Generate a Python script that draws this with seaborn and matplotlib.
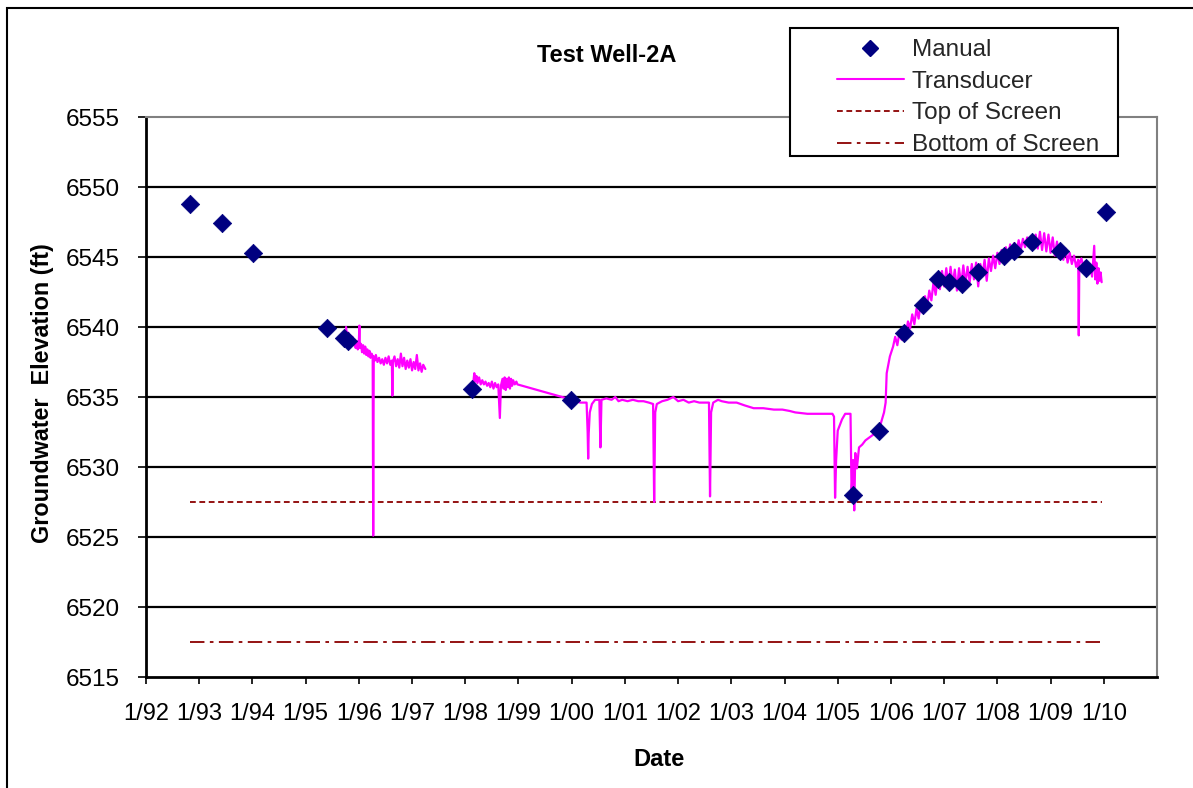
import numpy as np
import pandas as pd
import matplotlib
matplotlib.use("Agg")
import matplotlib.pyplot as plt
import seaborn as sns
from matplotlib.lines import Line2D
from matplotlib.patches import Rectangle

# ---------------- data ----------------
manual_dates = [1992.83, 1993.43, 1994.01, 1995.40, 1995.72, 1995.80, 1998.13, 1999.99,
                2005.28, 2005.77, 2006.24, 2006.61, 2006.88, 2007.10, 2007.33, 2007.63,
                2008.12, 2008.32, 2008.66, 2009.17, 2009.66, 2010.04]
manual_elev = [6548.8, 6547.4, 6545.3, 6539.9, 6539.2, 6539.0, 6535.6, 6534.8,
               6528.0, 6532.6, 6539.6, 6541.6, 6543.4, 6543.2, 6543.1, 6543.9,
               6545.1, 6545.4, 6546.1, 6545.4, 6544.2, 6548.2]

# transducer record, segment 1 (1995.8 - 1997.3)
trans1_dates = [1995.76, 1995.78, 1995.80, 1995.82, 1995.84, 1995.86, 1995.88, 1995.90, 1995.92, 1995.94,
                1995.96, 1995.98, 1996.00, 1996.01, 1996.02, 1996.04, 1996.06, 1996.08, 1996.10, 1996.12,
                1996.14, 1996.16, 1996.18, 1996.20, 1996.22, 1996.24, 1996.26, 1996.27, 1996.28, 1996.30,
                1996.32, 1996.35, 1996.38, 1996.41, 1996.44, 1996.47, 1996.50, 1996.53, 1996.56, 1996.59,
                1996.62, 1996.63, 1996.64, 1996.67, 1996.70, 1996.73, 1996.76, 1996.79, 1996.82, 1996.85,
                1996.88, 1996.91, 1996.94, 1996.97, 1997.00, 1997.03, 1997.06, 1997.09, 1997.12, 1997.15,
                1997.18, 1997.21, 1997.25]
trans1_elev = [6540.0, 6539.2, 6539.6, 6538.9, 6539.4, 6538.8, 6539.3, 6538.7, 6539.1, 6538.5,
               6539.0, 6538.4, 6538.9, 6540.1, 6538.5, 6538.8, 6538.2, 6538.7, 6538.1, 6538.6,
               6538.0, 6538.4, 6537.9, 6538.3, 6537.8, 6538.1, 6537.9, 6525.1, 6537.9, 6537.6,
               6538.0, 6537.5, 6537.8, 6537.4, 6537.7, 6537.3, 6537.8, 6537.4, 6537.9, 6537.3,
               6537.6, 6535.1, 6537.5, 6537.9, 6537.2, 6537.7, 6537.1, 6538.1, 6537.2, 6537.8,
               6537.0, 6537.6, 6537.1, 6537.7, 6536.9, 6537.5, 6537.0, 6538.0, 6536.9, 6537.4,
               6536.8, 6537.3, 6537.0]

# transducer record, segment 2 (1998.15 - 2009.96)
trans2_dates = [1998.15, 1998.17, 1998.19, 1998.21, 1998.23, 1998.26, 1998.29, 1998.32, 1998.35, 1998.38,
                1998.41, 1998.44, 1998.47, 1998.50, 1998.53, 1998.56, 1998.59, 1998.62, 1998.65, 1998.67,
                1998.70, 1998.72, 1998.74, 1998.76, 1998.78, 1998.80, 1998.82, 1998.84, 1998.86, 1998.88,
                1998.90, 1998.93, 1998.96, 1998.98,
                2000.00, 2000.10, 2000.16, 2000.28, 2000.30, 2000.31, 2000.32, 2000.34, 2000.38, 2000.44,
                2000.52, 2000.54, 2000.56, 2000.65, 2000.75, 2000.82, 2000.88, 2000.95, 2001.05, 2001.15,
                2001.25, 2001.35, 2001.45, 2001.53, 2001.55, 2001.57, 2001.60, 2001.70, 2001.80, 2001.91,
                2002.00, 2002.10, 2002.20, 2002.30, 2002.40, 2002.58, 2002.60, 2002.62, 2002.66, 2002.75,
                2002.82, 2002.95, 2003.10, 2003.25, 2003.42, 2003.60, 2003.80, 2003.96, 2004.10, 2004.20,
                2004.43, 2004.70, 2004.90, 2004.93, 2004.95, 2004.97, 2005.00, 2005.08, 2005.14, 2005.24,
                2005.26, 2005.29, 2005.31, 2005.33, 2005.36, 2005.40, 2005.46, 2005.52, 2005.77, 2005.87,
                2005.90, 2005.92, 2005.98,
                2006.04, 2006.08, 2006.12, 2006.16, 2006.20, 2006.24, 2006.28, 2006.32, 2006.36, 2006.40,
                2006.44, 2006.48, 2006.52, 2006.56, 2006.60, 2006.64, 2006.68, 2006.72, 2006.76, 2006.80,
                2006.84, 2006.88, 2006.92, 2006.96, 2007.00, 2007.04, 2007.08, 2007.12, 2007.16, 2007.20,
                2007.24, 2007.28, 2007.32, 2007.36, 2007.40, 2007.44, 2007.48, 2007.52, 2007.56, 2007.60,
                2007.64, 2007.68, 2007.72, 2007.76, 2007.80, 2007.84, 2007.88, 2007.92, 2007.96, 2008.00,
                2008.04, 2008.08, 2008.12, 2008.16, 2008.20, 2008.24, 2008.28, 2008.32, 2008.36, 2008.40,
                2008.44, 2008.48, 2008.52, 2008.56, 2008.60, 2008.64, 2008.68, 2008.72, 2008.76, 2008.80,
                2008.84, 2008.88, 2008.92, 2008.96, 2009.00, 2009.04, 2009.08, 2009.12, 2009.16, 2009.20,
                2009.24, 2009.28, 2009.32, 2009.36, 2009.40, 2009.44, 2009.48, 2009.52, 2009.53, 2009.54,
                2009.58, 2009.62, 2009.66, 2009.70, 2009.74, 2009.78, 2009.82, 2009.84, 2009.86, 2009.88,
                2009.90, 2009.92, 2009.94, 2009.96]
trans2_elev = [6536.0, 6536.7, 6536.1, 6536.5, 6536.0, 6536.4, 6535.9, 6536.2, 6535.9, 6536.1,
               6535.8, 6536.0, 6535.7, 6536.1, 6535.6, 6536.0, 6535.7, 6535.9, 6533.5, 6535.8,
               6536.3, 6535.6, 6536.4, 6535.5, 6536.3, 6535.7, 6536.4, 6535.6, 6536.3, 6535.8,
               6536.2, 6535.9, 6536.1, 6535.9,
               6534.8, 6534.7, 6534.6, 6534.6, 6532.5, 6530.6, 6532.4, 6533.9, 6534.5, 6534.8,
               6534.8, 6531.4, 6534.8, 6534.9, 6534.8, 6535.0, 6534.7, 6534.8, 6534.7, 6534.8,
               6534.7, 6534.7, 6534.6, 6534.5, 6527.5, 6533.9, 6534.5, 6534.7, 6534.8, 6535.0,
               6534.7, 6534.8, 6534.6, 6534.7, 6534.6, 6534.6, 6527.9, 6533.9, 6534.6, 6534.8,
               6534.7, 6534.6, 6534.6, 6534.4, 6534.2, 6534.2, 6534.1, 6534.1, 6534.0, 6533.9,
               6533.8, 6533.8, 6533.8, 6533.6, 6527.8, 6530.5, 6532.6, 6533.4, 6533.8, 6533.8,
               6528.1, 6530.5, 6526.9, 6531.0, 6529.9, 6531.4, 6531.6, 6531.9, 6532.6, 6533.9,
               6534.6, 6536.7, 6537.9,
               6538.6, 6539.3, 6538.7, 6539.6, 6539.1, 6540.0, 6539.5, 6540.4, 6539.9, 6540.9,
               6540.2, 6541.3, 6540.6, 6541.7, 6541.0, 6542.2, 6541.4, 6542.6, 6541.9, 6543.2,
               6542.3, 6543.6, 6542.7, 6544.0, 6542.9, 6544.2, 6542.8, 6544.3, 6543.0, 6544.1,
               6542.6, 6544.2, 6543.0, 6544.4, 6543.1, 6544.3, 6543.2, 6544.5, 6543.4, 6544.6,
               6542.9, 6544.5, 6543.7, 6544.8, 6543.3, 6544.9, 6544.0, 6545.1, 6544.2, 6545.3,
               6544.5, 6545.5, 6544.7, 6545.7, 6544.9, 6545.9, 6545.1, 6546.0, 6545.3, 6546.2,
               6545.5, 6546.3, 6545.7, 6546.4, 6545.8, 6546.5, 6545.7, 6546.6, 6545.6, 6546.8,
               6545.5, 6546.7, 6545.4, 6546.6, 6545.3, 6546.4, 6545.1, 6546.1, 6544.9, 6545.8,
               6544.8, 6545.6, 6544.6, 6545.3, 6544.5, 6545.1, 6544.3, 6544.8, 6539.4, 6544.5,
               6544.9, 6544.2, 6544.7, 6543.9, 6544.5, 6543.6, 6545.8, 6543.4, 6544.6, 6543.1,
               6544.2, 6543.3, 6543.9, 6543.2]

screen_dates = [1992.83, 2009.96]
top_of_screen = [6527.5, 6527.5]
bottom_of_screen = [6517.5, 6517.5]

year_ticks = [1992, 1993, 1994, 1995, 1996, 1997, 1998, 1999, 2000, 2001,
              2002, 2003, 2004, 2005, 2006, 2007, 2008, 2009, 2010]
year_labels = ["1/92", "1/93", "1/94", "1/95", "1/96", "1/97", "1/98", "1/99", "1/00", "1/01",
               "1/02", "1/03", "1/04", "1/05", "1/06", "1/07", "1/08", "1/09", "1/10"]
elev_ticks = [6515, 6520, 6525, 6530, 6535, 6540, 6545, 6550, 6555]

# ---------------- tables ----------------
manual_df = pd.DataFrame({"date": manual_dates, "elev": manual_elev})
trans_df = pd.concat([
    pd.DataFrame({"date": trans1_dates, "elev": trans1_elev, "seg": 1}),
    pd.DataFrame({"date": trans2_dates, "elev": trans2_elev, "seg": 2}),
], ignore_index=True)
screen_df = pd.DataFrame({"date": screen_dates, "top": top_of_screen, "bottom": bottom_of_screen})

# ---------------- style ----------------
sns.set_theme(style="white")
plt.rcParams["font.family"] = ["Liberation Sans", "DejaVu Sans"]

W, H = 1193, 788
fig = plt.figure(figsize=(W / 100, H / 100), dpi=100)
fig.patch.set_facecolor("white")

x0, x1, ytop, ybot = 146, 1157, 117, 677
ax = fig.add_axes([x0 / W, 1 - ybot / H, (x1 - x0) / W, (ybot - ytop) / H])
ax.set_facecolor("white")

# grid lines
for v in elev_ticks[1:-1]:
    ax.axhline(v, color="black", lw=1.6, zorder=1)

MAG = "#FF00FF"
NAVY = "#000080"
DRED = "#8B0000"

sns.lineplot(data=screen_df, x="date", y="top", ax=ax, color=DRED, lw=1.3,
             linestyle=(0, (3.2, 2.0)), zorder=2, legend=False)
sns.lineplot(data=screen_df, x="date", y="bottom", ax=ax, color=DRED, lw=1.3,
             linestyle=(0, (8, 3, 2, 3)), zorder=2, legend=False)
sns.lineplot(data=trans_df, x="date", y="elev", units="seg", estimator=None, sort=False,
             ax=ax, color=MAG, lw=1.6, zorder=3, legend=False)
sns.scatterplot(data=manual_df, x="date", y="elev", ax=ax, marker="D", s=88,
                color=NAVY, edgecolor=NAVY, linewidth=0.5, zorder=4, legend=False)

ax.set_xlim(1992, 2011)
ax.set_ylim(6515, 6555)
ax.set_xticks(year_ticks)
ax.set_xticklabels(year_labels)
ax.set_yticks(elev_ticks)
ax.set_yticklabels([str(v) for v in elev_ticks])
ax.tick_params(axis="x", direction="out", length=5, width=1.2, color="black",
               labelsize=17, pad=14, bottom=True)
ax.tick_params(axis="y", direction="out", length=6, width=1.2, color="black",
               labelsize=17.5, pad=13, left=True)
for lab in ax.get_xticklabels() + ax.get_yticklabels():
    lab.set_color("black")

for side in ["left", "bottom"]:
    ax.spines[side].set_color("black")
    ax.spines[side].set_linewidth(2.0)
for side in ["top", "right"]:
    ax.spines[side].set_color("#808080")
    ax.spines[side].set_linewidth(1.5)

ax.set_xlabel("")
ax.set_ylabel("")
fig.text(43 / W, 1 - 393 / H, "Groundwater  Elevation (ft)", rotation=90, fontsize=16.8,
         fontweight="bold", ha="center", va="center", color="black")
fig.text(659 / W, 1 - 760 / H, "Date", fontsize=17, fontweight="bold",
         ha="center", va="center", color="black")
fig.text(607 / W, 1 - 55 / H, "Test Well-2A", fontsize=17, fontweight="bold",
         ha="center", va="center", color="black")

# outer chart border
fig.patches.append(Rectangle((7 / W, -0.05), 1.2, 1 - 8 / H + 0.05, transform=fig.transFigure,
                             fill=False, edgecolor="black", lw=1.5, zorder=0))

# legend
handles = [
    Line2D([], [], marker="D", color=NAVY, linestyle="none", markersize=8),
    Line2D([], [], color=MAG, lw=1.5),
    Line2D([], [], color=DRED, lw=1.3, linestyle=(0, (3.2, 2.0))),
    Line2D([], [], color=DRED, lw=1.3, linestyle=(0, (8, 3, 2, 3))),
]
labels = ["Manual", "Transducer", "Top of Screen", "Bottom of Screen"]
leg = fig.legend(handles, labels, loc="upper left", bbox_to_anchor=(837 / W, 1 - 39 / H),
                 frameon=False, fontsize=17.5, handlelength=2.75, handletextpad=0.33,
                 borderpad=0, borderaxespad=0, labelspacing=0.4)
fig.patches.append(Rectangle((790 / W, 1 - 156 / H), (1118 - 790) / W, (156 - 28) / H,
                             transform=fig.transFigure, facecolor="white", edgecolor="black",
                             lw=1.5, zorder=5))
leg.set_zorder(6)

fig.savefig("out.png", dpi=100)
